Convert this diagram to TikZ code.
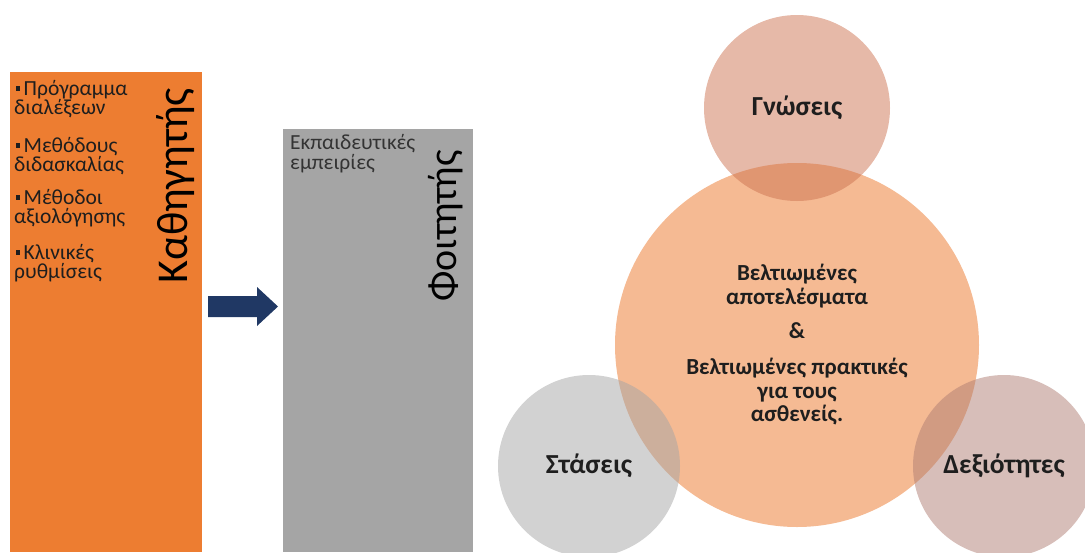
\documentclass[tikz,border=0pt]{standalone}
\usepackage{fontspec}
\setmainfont{Carlito}
\definecolor{barorange}{RGB}{237,125,49}
\definecolor{bargray}{RGB}{165,165,165}
\definecolor{arrowblue}{RGB}{32,56,100}
\definecolor{inktext}{RGB}{30,30,30}
\definecolor{maincirc}{RGB}{245,186,147}
\definecolor{knowcirc}{RGB}{205,115,81}
\definecolor{attcirc}{RGB}{165,165,165}
\definecolor{skillcirc}{RGB}{175,125,115}
\newcommand{\sqbullet}{\hspace{1.5pt}\raisebox{4.5pt}{\rule{4.5pt}{4.5pt}}\hspace{3.5pt}}
\begin{document}
\begin{tikzpicture}[x=1pt,y=-1pt,
  listtext/.style={inner sep=0pt, anchor=base west, text=inktext,
    font=\fontsize{21.5}{24}\selectfont},
  sidetitle/.style={inner sep=0pt, rotate=90, text=black},
  venn/.style={circle, inner sep=0pt, draw=none},
  side/.style={venn, fill opacity=0.5},
  venntext/.style={inner sep=0pt, align=center, text=inktext,
    font=\bfseries\fontsize{23}{23.5}\selectfont},
  smalltext/.style={venntext, font=\bfseries\fontsize{27.5}{30}\selectfont}]
\useasboundingbox (0,0) rectangle (1085,552);

% left column: the teacher
\fill[barorange] (10,72) rectangle (202,552);
\node[sidetitle, font=\fontsize{44}{48}\selectfont] (teacher) at (176,186) {Καθηγητής};
\foreach \yy/\txt [count=\i] in {
    95/{\sqbullet Πρόγραμμα}, 114.5/διαλέξεων,
    152/{\sqbullet Μεθόδους}, 171.5/διδασκαλίας,
    204/{\sqbullet Μέθοδοι}, 223.5/αξιολόγησης,
    259/{\sqbullet Κλινικές}, 278.5/ρυθμίσεις}
  \node[listtext] (item\i) at (14,\yy) {\txt};

% block arrow between the columns
\fill[arrowblue] (208,296) -- (257,296) -- (257,287) -- (278,306.5)
  -- (257,326) -- (257,317) -- (208,317) -- cycle;

% middle column: the student
\fill[bargray] (283,129) rectangle (473,552);
\node[sidetitle, font=\fontsize{40}{44}\selectfont] (student) at (446,226) {Φοιτητής};
\node[listtext, text=black!80] (exp1) at (290,149) {Εκπαιδευτικές};
\node[listtext, text=black!80] (exp2) at (290,169) {εμπειρίες};

% outcome diagram
\node[venn, fill=maincirc, minimum size=364pt] (outcome) at (797,345) {};
\node[side, fill=knowcirc, minimum size=186pt] (know) at (797,108) {};
\node[side, fill=attcirc, minimum size=182pt] (att) at (589,466) {};
\node[side, fill=skillcirc, minimum size=182pt] (skill) at (1004,466) {};

\node[smalltext] (knowlbl) at (know) {Γνώσεις};
\node[smalltext] (attlbl) at (att) {Στάσεις};
\node[smalltext] (skilllbl) at (skill) {Δεξιότητες};
\node[venntext] (res1) at (797,286) {Βελτιωμένες\\αποτελέσματα};
\node[venntext] (amp) at (797,331) {\&};
\node[venntext] (res2) at (797,392) {Βελτιωμένες πρακτικές\\για τους\\ασθενείς.};
\end{tikzpicture}
\end{document}
